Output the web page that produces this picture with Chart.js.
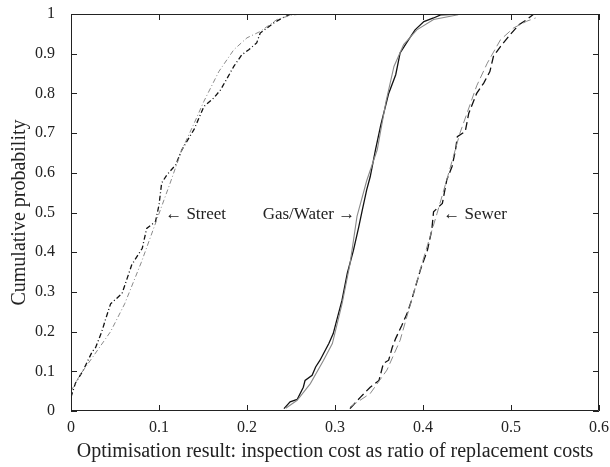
<!DOCTYPE html>
<html>
<head>
<meta charset="utf-8">
<script src="https://cdn.jsdelivr.net/npm/chart.js@4/dist/chart.umd.min.js"></script>
<style>
  html, body { margin: 0; padding: 0; background: #fff; }
  #wrap { width: 610px; height: 467px; }
</style>
</head>
<body>
<div id="wrap"><canvas id="chart"></canvas></div>
<script>
const xTicks = [0, 0.1, 0.2, 0.3, 0.4, 0.5, 0.6];
const yTicks = [0, 0.1, 0.2, 0.3, 0.4, 0.5, 0.6, 0.7, 0.8, 0.9, 1];

const streetEmpX = [0, 0.005, 0.014, 0.024, 0.028, 0.035, 0.039, 0.045, 0.05, 0.058, 0.069, 0.081, 0.086, 0.096, 0.1, 0.103, 0.109, 0.119, 0.126, 0.14, 0.151, 0.162, 0.17, 0.185, 0.194, 0.202, 0.211, 0.215, 0.223, 0.23, 0.24, 0.25];
const streetEmpY = [0.035, 0.07, 0.103, 0.149, 0.16, 0.2, 0.229, 0.27, 0.28, 0.296, 0.368, 0.41, 0.46, 0.477, 0.519, 0.574, 0.595, 0.62, 0.658, 0.71, 0.767, 0.788, 0.809, 0.868, 0.897, 0.91, 0.927, 0.952, 0.965, 0.977, 0.99, 1.0];
const streetFitX = [0, 0.01, 0.026, 0.045, 0.061, 0.08, 0.098, 0.112, 0.126, 0.14, 0.151, 0.168, 0.185, 0.2, 0.215, 0.234, 0.25, 0.262];
const streetFitY = [0.05, 0.09, 0.14, 0.2, 0.27, 0.375, 0.485, 0.57, 0.658, 0.725, 0.78, 0.855, 0.91, 0.94, 0.956, 0.986, 0.997, 1.0];

const gasEmpX = [0.242, 0.249, 0.257, 0.264, 0.266, 0.274, 0.278, 0.283, 0.287, 0.293, 0.298, 0.302, 0.308, 0.314, 0.321, 0.327, 0.331, 0.336, 0.34, 0.346, 0.352, 0.361, 0.369, 0.374, 0.382, 0.391, 0.401, 0.412, 0.42, 0.442];
const gasEmpY = [0.006, 0.023, 0.029, 0.06, 0.077, 0.09, 0.111, 0.128, 0.145, 0.17, 0.195, 0.229, 0.279, 0.347, 0.405, 0.464, 0.506, 0.557, 0.59, 0.658, 0.72, 0.8, 0.847, 0.902, 0.93, 0.96, 0.981, 0.99, 0.998, 1.0];
const gasFitX = [0.244, 0.257, 0.272, 0.287, 0.297, 0.308, 0.317, 0.325, 0.336, 0.348, 0.358, 0.367, 0.378, 0.393, 0.412, 0.44];
const gasFitY = [0.007, 0.027, 0.069, 0.128, 0.17, 0.27, 0.37, 0.49, 0.58, 0.658, 0.78, 0.868, 0.923, 0.96, 0.986, 0.998];

const sewerEmpX = [0.317, 0.329, 0.34, 0.35, 0.355, 0.361, 0.365, 0.369, 0.376, 0.382, 0.387, 0.397, 0.405, 0.41, 0.412, 0.422, 0.427, 0.433, 0.437, 0.439, 0.448, 0.452, 0.461, 0.469, 0.476, 0.48, 0.488, 0.499, 0.509, 0.518, 0.526];
const sewerEmpY = [0.006, 0.035, 0.06, 0.077, 0.12, 0.128, 0.16, 0.183, 0.216, 0.246, 0.279, 0.355, 0.405, 0.456, 0.502, 0.523, 0.582, 0.616, 0.658, 0.691, 0.704, 0.75, 0.8, 0.826, 0.855, 0.893, 0.918, 0.948, 0.973, 0.986, 1.0];
const sewerFitX = [0.317, 0.34, 0.359, 0.374, 0.387, 0.4, 0.416, 0.428, 0.442, 0.461, 0.473, 0.488, 0.503, 0.518, 0.528];
const sewerFitY = [0.01, 0.044, 0.103, 0.178, 0.279, 0.38, 0.498, 0.59, 0.7, 0.819, 0.876, 0.935, 0.965, 0.982, 0.99];

// labels placed in data units
const notes = [
  { text: '\u2190 Street', x: 0.107, y: 0.495, align: 'left' },
  { text: 'Gas/Water \u2192', x: 0.323, y: 0.495, align: 'right' },
  { text: '\u2190 Sewer', x: 0.423, y: 0.495, align: 'left' }
];

const SERIF = '"Liberation Serif", "DejaVu Serif", serif';

function pts(xs, ys) {
  return xs.map((x, i) => ({ x: x, y: ys[i] }));
}

function line(xs, ys, color, width, dash) {
  return {
    data: pts(xs, ys),
    showLine: true,
    borderColor: color,
    borderWidth: width,
    borderDash: dash,
    pointRadius: 0,
    tension: 0,
    fill: false
  };
}

// drop the label overflow padding so the plot box sits where we put it
function noPad(scale) {
  scale.paddingTop = 0;
  scale.paddingBottom = 0;
  scale.paddingLeft = 0;
  scale.paddingRight = 0;
}

// inward ticks on all four sides, plus top/right frame and text notes
const framePlugin = {
  id: 'frame',
  afterDraw(chart) {
    const ctx = chart.ctx;
    const a = chart.chartArea;
    const xs = chart.scales.x, ys = chart.scales.y;
    const len = 6;
    ctx.save();
    ctx.strokeStyle = '#222';
    ctx.lineWidth = 1;
    ctx.beginPath();
    ctx.rect(a.left + 0.5, a.top + 0.5, a.right - a.left - 1, a.bottom - a.top - 1);
    xTicks.forEach(v => {
      const p = Math.round(xs.getPixelForValue(v)) + 0.5;
      ctx.moveTo(p, a.bottom); ctx.lineTo(p, a.bottom - len);
      ctx.moveTo(p, a.top); ctx.lineTo(p, a.top + len);
    });
    yTicks.forEach(v => {
      const p = Math.round(ys.getPixelForValue(v)) + 0.5;
      ctx.moveTo(a.left, p); ctx.lineTo(a.left + len, p);
      ctx.moveTo(a.right, p); ctx.lineTo(a.right - len, p);
    });
    ctx.stroke();

    ctx.fillStyle = '#222';
    ctx.font = '17px ' + SERIF;
    ctx.textBaseline = 'middle';
    notes.forEach(n => {
      ctx.textAlign = n.align;
      ctx.fillText(n.text, xs.getPixelForValue(n.x), ys.getPixelForValue(n.y));
    });
    ctx.restore();
  }
};

const BLACK = '#111';
const GREY = '#8a8a8a';
const DASHDOT = [5, 2.5, 1, 2.5];
const DASH = [8, 4];

new Chart(document.getElementById('chart'), {
  type: 'scatter',
  data: {
    datasets: [
      line(streetFitX, streetFitY, GREY, 1, DASHDOT),
      line(streetEmpX, streetEmpY, BLACK, 1.3, DASHDOT),
      line(gasFitX, gasFitY, GREY, 1.1, []),
      line(gasEmpX, gasEmpY, BLACK, 1.3, []),
      line(sewerFitX, sewerFitY, GREY, 1, DASH),
      line(sewerEmpX, sewerEmpY, BLACK, 1.3, DASH)
    ]
  },
  options: {
    responsive: true,
    maintainAspectRatio: false,
    animation: false,
    layout: { padding: { left: 0, right: 11, top: 14, bottom: 0 } },
    plugins: {
      legend: { display: false },
      tooltip: { enabled: false }
    },
    scales: {
      x: {
        type: 'linear',
        min: 0,
        max: 0.6,
        afterBuildTicks(scale) { scale.ticks = xTicks.map(v => ({ value: v })); },
        afterFit(scale) { scale.height = 56; noPad(scale); },
        grid: { display: false, drawTicks: false },
        border: { display: false },
        ticks: {
          color: '#222',
          padding: 7,
          maxRotation: 0,
          font: { family: SERIF, size: 16 },
          callback: v => String(v)
        },
        title: {
          display: true,
          text: 'Optimisation result: inspection cost as ratio of replacement costs',
          color: '#222',
          font: { family: SERIF, size: 20 },
          padding: { top: 0, bottom: 3 }
        }
      },
      y: {
        type: 'linear',
        min: 0,
        max: 1,
        afterBuildTicks(scale) { scale.ticks = yTicks.map(v => ({ value: v })); },
        afterFit(scale) { scale.width = 71; noPad(scale); },
        grid: { display: false, drawTicks: false },
        border: { display: false },
        ticks: {
          color: '#222',
          padding: 16,
          font: { family: SERIF, size: 16 },
          callback: v => String(v)
        },
        title: {
          display: true,
          text: 'Cumulative probability',
          color: '#222',
          font: { family: SERIF, size: 20 },
          padding: { top: 8, bottom: 0 }
        }
      }
    }
  },
  plugins: [framePlugin]
});
</script>
</body>
</html>
